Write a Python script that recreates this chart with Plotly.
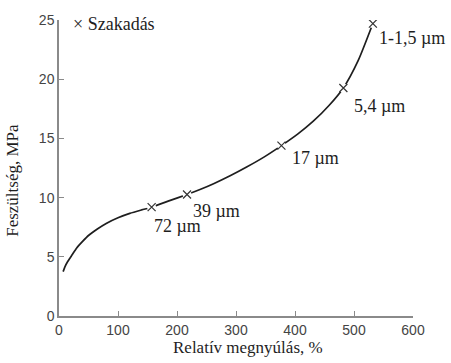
import plotly.graph_objects as go

# Stress-strain curve of the film
curve_strain = [7, 10, 15, 22, 30, 40, 50, 65, 80, 100, 120, 140, 157, 185, 217,
                240, 262, 290, 318, 348, 377, 405, 431, 458, 482, 507, 532]
curve_stress = [3.75, 4.15, 4.62, 5.15, 5.75, 6.3, 6.8, 7.35, 7.82, 8.3, 8.67, 8.96, 9.19, 9.7, 10.26,
                10.7, 11.17, 11.84, 12.58, 13.44, 14.39, 15.38, 16.45, 17.8, 19.26, 21.56, 24.7]

# Break points (Szakadás) and their thickness labels
break_strain = [157, 217, 377, 482, 532]
break_stress = [9.19, 10.26, 14.39, 19.26, 24.7]
break_labels = ["72 µm", "39 µm", "17 µm", "5,4 µm", "1-1,5 µm"]
label_dx = [0, 4, 9, 9, 4]      # label offsets in px
label_dy = [19, 16, 12, 18, 14]

x_ticks = [0, 100, 200, 300, 400, 500, 600]
y_ticks = [0, 5, 10, 15, 20, 25]

SERIF = "Liberation Serif"
SANS = "Liberation Sans"
INK = "#1e1e1e"
AXIS = "#8a8a8a"

fig = go.Figure()

fig.add_trace(go.Scatter(
    x=curve_strain, y=curve_stress, mode="lines",
    line=dict(color=INK, width=1.7, shape="spline", smoothing=0.6),
    hoverinfo="skip", showlegend=False,
))
# white halo so the curve breaks slightly around each cross
fig.add_trace(go.Scatter(
    x=break_strain, y=break_stress, mode="markers",
    marker=dict(symbol="circle", size=9, color="white", line=dict(width=0)),
    hoverinfo="skip", showlegend=False,
))
fig.add_trace(go.Scatter(
    x=break_strain, y=break_stress, mode="markers",
    marker=dict(symbol="x-thin", size=8, color="#333333",
                line=dict(width=1.2, color="#333333")),
    name="Szakadás", showlegend=False,
))

for xs, ys, lab, dx, dy in zip(break_strain, break_stress, break_labels, label_dx, label_dy):
    fig.add_annotation(
        x=xs, y=ys, text=lab, showarrow=False,
        xanchor="left", yanchor="middle", xshift=dx, yshift=-dy,
        font=dict(family=SERIF, size=18, color=INK),
    )

# legend entry
fig.add_annotation(
    xref="paper", yref="paper", x=0.035, y=0.985,
    text="× Szakadás", showarrow=False, xanchor="left", yanchor="middle",
    font=dict(family=SERIF, size=18, color=INK),
)

# axis titles
fig.add_annotation(
    xref="paper", yref="paper", x=0.535, y=-0.108,
    text="Relatív megnyúlás, %", showarrow=False,
    xanchor="center", yanchor="middle",
    font=dict(family=SERIF, size=17, color=INK),
)
fig.add_annotation(
    xref="paper", yref="paper", x=-0.13, y=0.46,
    text="Feszültség, MPa", showarrow=False, textangle=-90,
    xanchor="center", yanchor="middle",
    font=dict(family=SERIF, size=17, color=INK),
)

axis_common = dict(
    showgrid=False, zeroline=False, showline=True, linecolor=AXIS, linewidth=1.5,
    ticks="inside", ticklen=5, tickwidth=1.2, tickcolor=AXIS,
    tickfont=dict(family=SANS, size=14, color="#444444"),
)

fig.update_xaxes(range=[0, 600], tickvals=x_ticks, **axis_common)
fig.update_yaxes(range=[0, 25], tickvals=y_ticks, **axis_common)

fig.update_layout(
    width=451, height=363,
    margin=dict(l=59, r=38, t=20, b=47),
    plot_bgcolor="white", paper_bgcolor="white",
)

fig.write_html("out.html")
